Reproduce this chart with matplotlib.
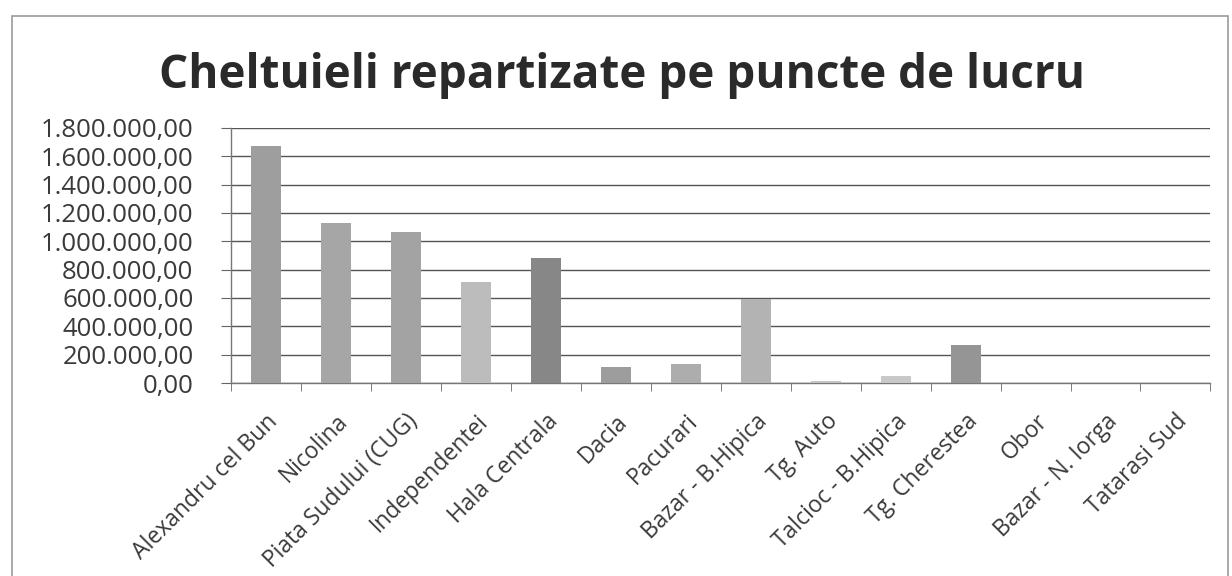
import matplotlib
matplotlib.use("Agg")
import matplotlib.pyplot as plt
from matplotlib.patches import Rectangle
import numpy as np

categories = ["Alexandru cel Bun", "Nicolina", "Piata Sudului (CUG)", "Independentei",
              "Hala Centrala", "Dacia", "Pacurari", "Bazar - B.Hipica", "Tg. Auto",
              "Talcioc - B.Hipica", "Tg. Cherestea", "Obor", "Bazar - N. Iorga", "Tatarasi Sud"]
values = [1675000, 1128000, 1062000, 716000, 885000, 115000, 134000, 591000,
          15000, 50000, 268000, 3000, 0, 0]
bar_colors = ["#9e9e9e", "#a6a6a6", "#a3a3a3", "#bcbcbc", "#878787", "#9d9d9d", "#adadad",
              "#b3b3b3", "#c4c4c4", "#c8c8c8", "#959595", "#bbbbbb", "#bbbbbb", "#bbbbbb"]
yticks = [0, 200000, 400000, 600000, 800000, 1000000, 1200000, 1400000, 1600000, 1800000]
ytick_labels = ["0,00", "200.000,00", "400.000,00", "600.000,00", "800.000,00",
                "1.000.000,00", "1.200.000,00", "1.400.000,00", "1.600.000,00", "1.800.000,00"]
title = "Cheltuieli repartizate pe puncte de lucru"

plt.rcParams['font.family'] = ['Open Sans', 'DejaVu Sans']

fig = plt.figure(figsize=(12.32, 5.76), dpi=100)
ax = fig.add_axes([0.1875, 0.335, 0.795, 0.443])

x = np.arange(len(categories))
ax.bar(x, values, width=0.43, color=bar_colors, zorder=3)

ax.set_xlim(-0.5, len(categories) - 0.5)
ax.set_ylim(0, 1800000)
ax.set_yticks(yticks)
ax.set_yticklabels(ytick_labels, fontsize=18.5, color="#3a3a3a")
ax.yaxis.grid(True, color="#555555", linewidth=1.0, zorder=0)

ax.set_xticks(x)
ax.set_xticklabels(categories, rotation=45, ha="right", rotation_mode="anchor",
                   fontsize=16.5, color="#3a3a3a")
ax.tick_params(axis="x", which="major", length=0, pad=19)
ax.set_xticks(np.arange(-0.5, len(categories), 1.0), minor=True)
ax.tick_params(axis="x", which="minor", length=6, color="#666666", direction="out")
ax.tick_params(axis="y", length=7, color="#666666", pad=20)

for s in ["top", "right"]:
    ax.spines[s].set_visible(False)
for s in ["left", "bottom"]:
    ax.spines[s].set_color("#777777")
    ax.spines[s].set_linewidth(1.0)

fig.text(0.505, 0.847, title, ha="center", va="baseline", fontsize=33,
         fontweight="bold", color="#2a2a2a")

fig.patches.append(Rectangle((12 / 1232, -0.05), 1216 / 1232, 1.05 - 16 / 576,
                             transform=fig.transFigure, fill=False,
                             edgecolor="#9a9a9a", linewidth=1.2))

fig.savefig("out.png", dpi=100, facecolor="white")
